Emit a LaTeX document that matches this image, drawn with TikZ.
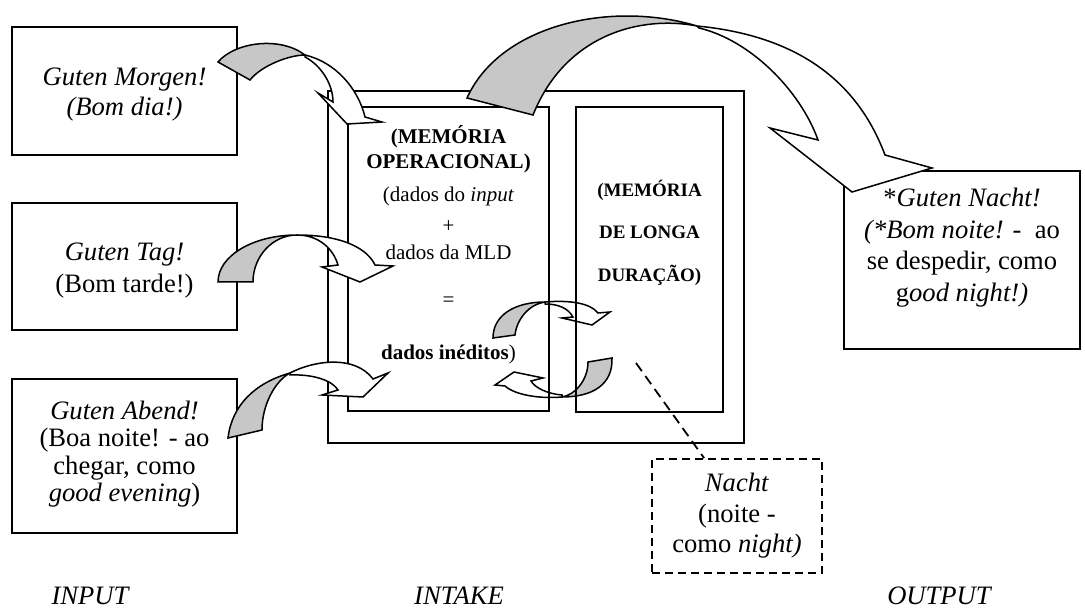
\documentclass[tikz,border=0pt]{standalone}
\usepackage{fontspec}
\setmainfont{Liberation Serif}
\begin{document}
\begin{tikzpicture}[x=0.5pt,y=-0.5pt,
  box/.style={draw,line width=1pt,inner sep=0pt},
  dbox/.style={draw,line width=0.9pt,dash pattern=on 4pt off 2.5pt,inner sep=0pt,align=center,
    font=\fontsize{13.3}{15.25}\selectfont},
  txt/.style={inner sep=0pt,align=center},
  band/.style={draw,line width=0.75pt,line join=miter},
  back/.style={band,fill=black!22},
  front/.style={band,fill=white},
  lbl/.style={inner sep=0pt,font=\fontsize{13.3}{15.3}\selectfont\itshape}]

\fill[white] (0,0) rectangle (1085,613);
\useasboundingbox (0,0) rectangle (1085,613);

% exchange between the two memories (lies beneath the box outlines)
\filldraw[back] (493,338) .. controls (493,315) and (515,302) .. (545,302)
  .. controls (530,304) and (517,318) .. (515,335) -- cycle;
\filldraw[front] (545,302) .. controls (570,300) and (590,303) .. (598,313)
  -- (610,312) -- (592,325) -- (562,318) -- (573,317)
  .. controls (568,308) and (558,304) .. (545,304) -- cycle;
\filldraw[back] (612,358) .. controls (613,385) and (592,397) .. (562,397)
  .. controls (575,395) and (588,380) .. (588,362) -- cycle;
\filldraw[front] (562,397) .. controls (540,399) and (515,395) .. (505,386)
  -- (495,385) -- (514,372) -- (543,378) -- (531,381)
  .. controls (535,388) and (548,394) .. (562,395) -- cycle;

% boxes
\node[box,minimum width=208pt,minimum height=176pt] (intake) at (536,267) {};
\node[box,minimum width=100.5pt,minimum height=152pt] (mo) at (448.5,259) {};
\node[box,minimum width=73.5pt,minimum height=152.5pt] (mld) at (649.5,259.5) {};
\node[box,minimum width=112.5pt,minimum height=64pt] (morgen) at (124.5,91) {};
\node[box,minimum width=112.5pt,minimum height=63.5pt] (tag) at (124.5,266.5) {};
\node[box,minimum width=112.5pt,minimum height=77pt] (abend) at (124.5,456) {};
\node[box,minimum width=118pt,minimum height=89pt] (nacht) at (962,260) {};
\node[dbox,minimum width=85pt,minimum height=57pt] (night) at (737,516)
  {\textit{Nacht}\\(noite -\\como \textit{night)}};

% texts
\node[txt,font=\fontsize{13.3}{15}\selectfont] (morgentxt) at (124.5,95)
  {\textit{Guten Morgen!}\\\textit{(Bom dia!)}};
\node[txt,font=\fontsize{13.3}{16}\selectfont] (tagtxt) at (124.5,271)
  {\textit{Guten Tag!}\\(Bom tarde!)};
\node[txt,font=\fontsize{13.3}{13.7}\selectfont] (abendtxt) at (124.5,454)
  {\textit{Guten Abend!}\\(Boa noite! - ao\\chegar, como\\\textit{good evening})};
\node[txt,font=\fontsize{10.5}{12}\selectfont] (motxt) at (448.5,245)
  {\textbf{(MEMÓRIA}\\[0.5pt]\textbf{OPERACIONAL)}\\[4.5pt](dados do \textit{input}\\[3.5pt]+\\[1.5pt]dados da MLD\\[11.5pt]=\\[14.5pt]\textbf{dados inéditos})};
\node[txt,font=\fontsize{9.5}{21.25}\selectfont\bfseries] (mldtxt) at (649.5,232.5)
  {(MEMÓRIA\\DE LONGA\\DURAÇÃO)};
\node[txt,font=\fontsize{13.3}{15.8}\selectfont] (nachttxt) at (962,247.5)
  {*\textit{Guten Nacht!}\\\textit{(*Bom noite!} -\ \ ao\\se despedir, como\\g\textit{ood night!)}};

\node[lbl] (input) at (90,596) {INPUT};
\node[lbl] (intakelbl) at (459,596) {INTAKE};
\node[lbl] (output) at (939,596) {OUTPUT};

% pointer from the long-term memory to the note
\coordinate (nightref) at (636,363);
\draw[line width=0.9pt,dash pattern=on 5pt off 3pt] (nightref) -- ([xshift=26.5pt]night.north west);

% Guten Morgen -> working memory
\filldraw[back] (218,62) .. controls (235,42) and (280,36) .. (305,55)
  .. controls (290,55) and (262,65) .. (250,80) -- cycle;
\filldraw[front] (305,55) .. controls (335,62) and (358,88) .. (365,117)
  -- (382,122) -- (347,124) -- (318,93) -- (333,102)
  .. controls (333,85) and (322,66) .. (305,57) -- cycle;

% Guten Tag -> working memory
\filldraw[back] (218,282) .. controls (218,256) and (253,235) .. (297,235)
  .. controls (273,235) and (253,256) .. (253,282) -- cycle;
\filldraw[front] (297,235) .. controls (345,235) and (368,250) .. (375,265)
  -- (393,266) -- (360,282) -- (322,267) -- (338,265)
  .. controls (333,248) and (318,235) .. (297,235) -- cycle;

% Guten Abend -> working memory
\filldraw[back] (228,438) .. controls (232,405) and (255,383) .. (290,373)
  .. controls (275,381) and (262,405) .. (262,430) -- cycle;
\filldraw[front] (290,373) .. controls (315,360) and (355,355) .. (373,379)
  -- (388,373) -- (363,397) -- (322,395) -- (338,390)
  .. controls (332,380) and (312,374) .. (290,375) -- cycle;

% working memory -> output
\filldraw[back] (467,98) .. controls (500,25) and (610,0) .. (697,26)
  .. controls (640,15) and (565,35) .. (533,115) -- cycle;
\filldraw[front] (697,26) .. controls (790,35) and (855,75) .. (885,155)
  -- (932,168) -- (852,192) -- (770,128) -- (818,140)
  .. controls (800,90) and (750,40) .. (699,28) -- cycle;
\end{tikzpicture}
\end{document}
